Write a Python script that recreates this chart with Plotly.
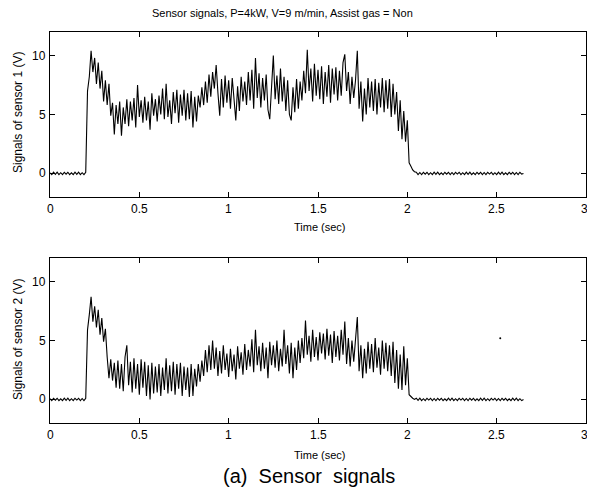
import plotly.graph_objects as go
from plotly.subplots import make_subplots

# sampling grid, 10 ms steps from 0 to 2.65 s
time_sec = [round(0.01 * i, 2) for i in range(266)]

# sensor 1 (V)
s1_lead = [0.05, -0.1, 0.1, -0.08, 0.1, -0.1, 0.06, -0.1, 0.1, -0.06,
           0.1, -0.1, 0.05, -0.1, 0.1, -0.08, 0.1, -0.1, 0.06, -0.1]
s1_cut = [0.1, 7.0, 8.2, 10.4, 8.6, 9.8, 7.6, 9.4, 7.2, 8.7,
          6.1, 7.9, 5.8, 7.6, 4.9, 6.0, 3.3, 5.8, 4.2, 6.1,
          3.2, 5.6, 4.2, 6.3, 4.0, 6.1, 4.5, 6.4, 3.9, 7.5,
          4.8, 6.2, 4.3, 6.5, 4.5, 6.1, 3.7, 6.8, 4.9, 6.3,
          4.4, 6.6, 5.0, 7.2, 4.6, 7.6, 4.8, 6.2, 4.2, 6.9,
          5.1, 7.1, 4.3, 6.7, 4.9, 7.1, 4.5, 6.8, 4.6, 7.0,
          3.9, 6.5, 4.4, 6.6, 5.6, 7.3, 5.8, 7.8, 6.0, 8.4,
          6.5, 8.6, 7.2, 9.2, 6.8, 4.9, 8.0, 5.6, 8.3, 6.0,
          7.9, 5.5, 8.1, 6.0, 4.5, 7.4, 5.3, 8.2, 6.1, 7.8,
          5.8, 8.6, 6.2, 8.8, 5.5, 9.8, 6.4, 8.5, 5.6, 8.1,
          6.2, 8.4, 5.4, 4.6, 7.5, 10.0, 6.3, 8.3, 5.9, 8.9,
          6.1, 8.2, 5.3, 7.9, 5.0, 4.5, 7.3, 5.2, 8.0, 5.5,
          7.8, 6.2, 8.7, 6.8, 10.5, 7.0, 8.9, 6.1, 9.3, 6.6,
          8.8, 6.3, 9.1, 5.9, 8.6, 6.5, 9.2, 6.0, 8.9, 6.7,
          9.0, 6.2, 8.7, 6.6, 9.4, 10.1, 7.0, 8.6, 5.9, 8.2,
          6.4, 7.9, 10.4, 5.5, 7.8, 4.4, 7.2, 5.0, 8.1, 5.6,
          7.8, 5.3, 8.0, 5.0, 7.7, 5.6, 8.1, 5.2, 7.9, 5.5,
          8.0, 4.8, 7.6, 5.0, 6.9, 3.6, 6.2, 2.9, 5.3, 2.7,
          4.5, 0.9, 0.6, 0.3, 0.15]
s1_tail = [0.1, -0.1, 0.08, -0.1, 0.1, -0.06, 0.1, -0.1, 0.06, -0.1,
           0.1, -0.08, 0.1, -0.1, 0.05, -0.1, 0.1, -0.06, 0.1, -0.1,
           0.08, -0.1, 0.1, -0.05, 0.1, -0.1, 0.06, -0.1, 0.1, -0.08,
           0.1, -0.1, 0.05, -0.1, 0.1, -0.06, 0.1, -0.1, 0.08, -0.1,
           0.1, -0.05, 0.1, -0.1, 0.06, -0.1, 0.1, -0.08, 0.1, -0.1,
           0.05, -0.1, 0.1, -0.06, 0.1, -0.1, 0.08, -0.1, 0.1, -0.05, 0.0]
sensor1_v = s1_lead + s1_cut + s1_tail

# sensor 2 (V)
s2_lead = [0.06, -0.1, 0.1, -0.06, 0.1, -0.1, 0.05, -0.1, 0.1, -0.08,
           0.1, -0.1, 0.06, -0.1, 0.1, -0.05, 0.1, -0.1, 0.08, -0.1]
s2_cut = [0.1, 5.9, 7.2, 8.7, 6.6, 7.9, 6.1, 7.6, 5.5, 6.9,
          4.9, 6.0, 3.6, 1.8, 3.4, 1.6, 3.1, 1.0, 3.3, 0.9,
          3.0, 0.7, 3.6, 4.6, 1.2, 3.2, 0.6, 3.5, 0.9, 3.0,
          0.4, 3.4, 1.0, 3.2, 0.3, 2.9, 0.0, 3.1, 0.5, 2.8,
          0.6, 3.0, 0.3, 2.7, 0.8, 3.5, 0.5, 2.9, 0.7, 3.2,
          0.4, 3.0, 0.9, 3.1, 0.3, 2.8, 0.8, 2.7, 0.2, 3.0,
          0.3, 2.6, 1.1, 3.0, 1.5, 3.3, 2.0, 4.2, 2.3, 4.6,
          2.5, 5.0, 2.6, 4.4, 2.0, 4.1, 2.2, 4.6, 2.5, 3.9,
          1.9, 4.3, 2.4, 3.8, 1.7, 4.5, 2.6, 4.0, 2.1, 4.7,
          2.5, 4.2, 2.8, 5.1, 2.3, 5.9, 2.9, 4.5, 2.4, 4.8,
          2.6, 4.4, 1.8, 4.9, 2.9, 4.6, 2.7, 5.0, 2.4, 4.3,
          2.8, 5.9, 3.0, 4.6, 2.2, 4.8, 1.8, 4.4, 2.5, 5.0,
          3.1, 5.2, 3.5, 6.7, 3.8, 5.4, 3.2, 5.9, 3.6, 5.3,
          3.3, 5.7, 3.9, 5.6, 3.4, 6.0, 3.7, 5.5, 3.1, 5.8,
          3.6, 5.4, 3.3, 5.9, 3.8, 6.6, 3.0, 5.2, 2.8, 5.0,
          3.2, 5.5, 7.0, 2.4, 4.6, 1.8, 4.3, 2.2, 4.9, 2.6,
          4.7, 2.3, 5.2, 2.7, 4.4, 2.1, 5.0, 2.6, 4.8, 2.4,
          4.6, 2.0, 4.9, 1.4, 4.2, 0.9, 3.8, 0.8, 4.5, 1.2,
          3.5, 0.4, 0.2, 0.1, 0.0]
s2_tail = [0.1, -0.08, 0.1, -0.1, 0.06, -0.1, 0.1, -0.05, 0.1, -0.1,
           0.08, -0.1, 0.1, -0.06, 0.1, -0.1, 0.05, -0.1, 0.1, -0.08,
           0.1, -0.1, 0.06, -0.1, 0.1, -0.05, 0.1, -0.1, 0.08, -0.1,
           0.1, -0.06, 0.1, -0.1, 0.05, -0.1, 0.1, -0.08, 0.1, -0.1,
           0.06, -0.1, 0.1, -0.05, 0.1, -0.1, 0.08, -0.1, 0.1, -0.06,
           0.1, -0.1, 0.05, -0.1, 0.1, -0.08, 0.1, -0.1, 0.06, -0.1, 0.0]
sensor2_v = s2_lead + s2_cut + s2_tail

# stray point in the sensor 2 plot
stray_t = [2.52]
stray_v = [5.2]

x_ticks = [0, 0.5, 1, 1.5, 2, 2.5, 3]
x_labels = ["0", "0.5", "1", "1.5", "2", "2.5", "3"]
y_ticks = [0, 5, 10]
y_labels = ["0", "5", "10"]

# the page body has an 8px margin on every side; keep the figure inside
# the window so no scrollbars show up
OFF = 8
W, H = 595 - 2 * OFF, 495 - 2 * OFF
font = "Liberation Sans, Arial, sans-serif"


def px_x(p):
    return (p - OFF) / W


def px_y(p):
    return 1 - (p - OFF) / H


fig = make_subplots(rows=2, cols=1)
fig.add_trace(go.Scatter(x=time_sec, y=sensor1_v, mode="lines",
                         line=dict(color="black", width=1.1)), row=1, col=1)
fig.add_trace(go.Scatter(x=time_sec, y=sensor2_v, mode="lines",
                         line=dict(color="black", width=1.1)), row=2, col=1)
fig.add_trace(go.Scatter(x=stray_t, y=stray_v, mode="markers",
                         marker=dict(color="black", size=2)), row=2, col=1)

x0, x1 = px_x(50), px_x(586)
fig.update_layout(
    width=W, height=H, autosize=False, showlegend=False,
    margin=dict(l=0, r=0, t=0, b=0),
    paper_bgcolor="white", plot_bgcolor="white",
    font=dict(family=font, size=12, color="black"),
    xaxis=dict(domain=[x0, x1], anchor="y"),
    xaxis2=dict(domain=[x0, x1], anchor="y2"),
    yaxis=dict(domain=[px_y(197), px_y(32)], anchor="x"),
    yaxis2=dict(domain=[px_y(423), px_y(258)], anchor="x2"),
)
fig.update_xaxes(range=[0, 3], tickvals=x_ticks, showticklabels=False,
                 showgrid=False, zeroline=False, showline=True, mirror="ticks",
                 linecolor="black", linewidth=1, ticks="inside", ticklen=5,
                 tickcolor="black", automargin=False)
fig.update_yaxes(range=[-2, 12], tickvals=y_ticks, showticklabels=False,
                 showgrid=False, zeroline=False, showline=True, mirror="ticks",
                 linecolor="black", linewidth=1, ticks="inside", ticklen=5,
                 tickcolor="black", automargin=False)

# tick labels placed close to the axes, as in the original figure
for xa, ya in [("x", "y"), ("x2", "y2")]:
    for v, lab in zip(x_ticks, x_labels):
        fig.add_annotation(x=v, y=-2, xref=xa, yref=ya, text=lab,
                           showarrow=False, yanchor="top", xanchor="center",
                           xshift=-2 if v == 3 else 0, yshift=-3,
                           font=dict(size=12))
    for v, lab in zip(y_ticks, y_labels):
        fig.add_annotation(x=0, y=v, xref=xa, yref=ya, text=lab,
                           showarrow=False, xanchor="right", yanchor="middle",
                           xshift=-2, font=dict(size=12))

ann = [
    dict(text="Sensor signals, P=4kW, V=9 m/min, Assist gas = Non",
         x=px_x(282), y=px_y(13), font=dict(size=11)),
    dict(text="Signals of sensor 1 (V)", x=px_x(18), y=px_y(113),
         textangle=-90, font=dict(size=12)),
    dict(text="Signals of sensor 2 (V)", x=px_x(18), y=px_y(340),
         textangle=-90, font=dict(size=12)),
    dict(text="Time (sec)", x=px_x(320), y=px_y(227), font=dict(size=11)),
    dict(text="Time (sec)", x=px_x(320), y=px_y(455), font=dict(size=11)),
    dict(text="(a)  Sensor  signals", x=px_x(309), y=px_y(476),
         font=dict(size=20)),
]
for a in ann:
    fig.add_annotation(xref="paper", yref="paper", showarrow=False,
                       xanchor="center", yanchor="middle", **a)

fig.write_html("out.html")
